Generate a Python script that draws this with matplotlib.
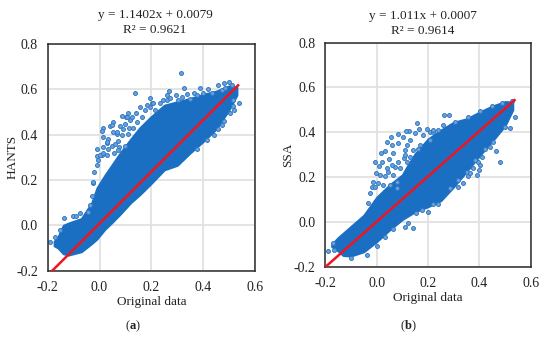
import matplotlib
matplotlib.use("Agg")
import matplotlib.pyplot as plt
import numpy as np

plt.rcParams['font.family'] = ['Liberation Serif', 'DejaVu Serif']
plt.rcParams['mathtext.fontset'] = 'custom'
plt.rcParams['mathtext.rm'] = 'Liberation Serif'
plt.rcParams['mathtext.bf'] = 'Liberation Serif:bold'

ticks = [-0.2, 0.0, 0.2, 0.4, 0.6]
yticks = [-0.2, 0.0, 0.2, 0.4, 0.6, 0.8]
xlabel = "Original data"

# panel a : dense part of the cloud, edges
a_core_x = [-0.175, -0.16, -0.14, -0.12, -0.07, -0.03, -0.01, 0.02, 0.05, 0.08, 0.12, 0.155, 0.195, 0.25, 0.30, 0.35, 0.40, 0.45, 0.50, 0.53]
a_core_up = [-0.07, -0.05, 0.0, 0.01, 0.03, 0.10, 0.165, 0.22, 0.27, 0.32, 0.38, 0.43, 0.475, 0.53, 0.545, 0.56, 0.578, 0.592, 0.615, 0.61]
a_core_lo = [-0.09, -0.10, -0.125, -0.131, -0.116, -0.08, -0.06, -0.018, 0.015, 0.05, 0.10, 0.135, 0.18, 0.245, 0.265, 0.32, 0.37, 0.425, 0.51, 0.575]
a_pts_x = [0.137, 0.195, 0.156, 0.111, 0.086, 0.102, 0.141, 0.053, 0.041, 0.015, 0.011, 0.015, 0.079, 0.098, 0.090, 0.115,
           -0.008, 0.034, 0.073, 0.053, 0.028, 0.047, -0.011, 0.008, 0.076, 0.066, 0.118, 0.176, 0.195,
           0.313, 0.327, 0.388, 0.420, 0.459, 0.481, 0.501, 0.267, 0.262, 0.295, 0.320, 0.339, 0.366, 0.537, 0.517, 0.519,
           0.481, 0.459, 0.246, 0.259, -0.19, -0.171, -0.154, -0.137, -0.102, -0.074, -0.09, -0.044, -0.038, -0.029, -0.025,
           0.028, 0.015, 0.002, 0.034, 0.060, 0.073, 0.099, 0.054, 0.086, 0.111, 0.131, 0.146, 0.163, 0.182, 0.202, 0.214,
           0.124, 0.105, 0.066, 0.047, 0.028, -0.011, -0.02, -0.024, -0.005, 0.015,
           0.272, 0.304, 0.349, 0.375, 0.401, 0.433, 0.472, 0.208, 0.234, 0.485, 0.510, 0.517, 0.504, 0.472, 0.440, 0.414, 0.375]
a_pts_y = [0.583, 0.563, 0.523, 0.497, 0.482, 0.477, 0.497, 0.457, 0.438, 0.431, 0.415, 0.388, 0.440, 0.446, 0.424, 0.428,
           0.337, 0.381, 0.372, 0.413, 0.362, 0.350, 0.306, 0.310, 0.344, 0.403, 0.465, 0.509, 0.523,
           0.671, 0.605, 0.607, 0.601, 0.619, 0.628, 0.631, 0.593, 0.574, 0.576, 0.568, 0.579, 0.583, 0.541, 0.528, 0.508,
           0.460, 0.425, 0.553, 0.553, -0.075, -0.05, -0.02, 0.031, 0.043, 0.053, 0.041, 0.06, 0.09, 0.131, 0.188,
           0.369, 0.344, 0.310, 0.339, 0.361, 0.332, 0.350, 0.317, 0.398, 0.403, 0.428, 0.457, 0.479, 0.530, 0.538, 0.508,
           0.479, 0.479, 0.413, 0.442, 0.310, 0.266, 0.237, 0.193, 0.288, 0.318,
           0.560, 0.553, 0.556, 0.575, 0.582, 0.586, 0.597, 0.538, 0.538, 0.604, 0.619, 0.553, 0.494, 0.442, 0.398, 0.376, 0.339]

# panel b
b_core_x = [-0.175, -0.15, -0.13, -0.10, -0.05, 0.0, 0.05, 0.10, 0.12, 0.15, 0.20, 0.25, 0.30, 0.35, 0.40, 0.45, 0.50, 0.53]
b_core_up = [-0.10, -0.07, -0.05, -0.02, 0.03, 0.11, 0.165, 0.21, 0.25, 0.305, 0.37, 0.41, 0.445, 0.46, 0.49, 0.517, 0.537, 0.535]
b_core_lo = [-0.11, -0.13, -0.15, -0.152, -0.133, -0.088, -0.036, 0.011, 0.025, 0.046, 0.068, 0.095, 0.157, 0.225, 0.295, 0.36, 0.43, 0.50]
b_pts_x = [0.158, 0.127, 0.114, 0.084, 0.101, 0.056, 0.041, 0.033, 0.016, 0.059, 0.084, -0.006, 0.020, 0.010, -0.004, -0.013,
           -0.019, 0.013, 0.049, 0.065, 0.117, 0.110, 0.041, 0.071, 0.106, 0.143, 0.166, 0.195, 0.208, 0.026,
           0.261, 0.281, 0.538, 0.482, 0.465, 0.519, 0.452, 0.409, 0.396, 0.400, 0.390, 0.357, 0.338, 0.318, 0.376,
           -0.191, -0.169, -0.165, -0.100, -0.039, -0.000, 0.033, 0.065, 0.110, 0.143, 0.123, 0.152, 0.201, 0.175, 0.238, 0.220, -0.033, -0.026,
           0.032, 0.045, 0.065, 0.078, 0.091, 0.058, 0.084, 0.117, 0.130, 0.110, 0.130, 0.149, 0.182, 0.221, 0.240, 0.208, 0.169, 0.162, 0.052, 0.006, -0.007, 0.078,
           0.422, 0.383, 0.351, 0.318, 0.286, 0.442, 0.500, 0.403, 0.364,
           0.221, 0.260, 0.305, 0.357, 0.403, 0.448, 0.487, 0.526]
b_pts_y = [0.440, 0.407, 0.406, 0.391, 0.380, 0.378, 0.358, 0.318, 0.309, 0.343, 0.351, 0.269, 0.269, 0.250, 0.217, 0.177,
           0.157, 0.209, 0.280, 0.306, 0.343, 0.321, 0.239, 0.246, 0.284, 0.321, 0.413, 0.413, 0.403, 0.165,
           0.479, 0.479, 0.470, 0.269, 0.318, 0.418, 0.358, 0.291, 0.269, 0.232, 0.209, 0.205, 0.175, 0.157, 0.239,
           -0.130, -0.095, -0.126, -0.163, -0.148, -0.106, -0.069, -0.032, -0.021, -0.026, -0.006, 0.038, 0.045, 0.053, 0.080, 0.080, 0.086, 0.130,
           0.205, 0.224, 0.210, 0.180, 0.239, 0.254, 0.269, 0.269, 0.291, 0.299, 0.366, 0.396, 0.388, 0.403, 0.410, 0.366, 0.343, 0.324, 0.165, 0.172, 0.157, 0.150,
           0.324, 0.276, 0.224, 0.187, 0.150, 0.336, 0.425, 0.254, 0.217,
           0.410, 0.433, 0.448, 0.467, 0.497, 0.518, 0.529, 0.541]

a_fit = (1.1402, 0.0079)
b_fit = (1.011, 0.0007)
a_end = 0.535
b_end = 0.537

W, H = 550, 337
BLUE = "#1b6fc2"


def panel(rect, core, pts, fit, end, ylabel, ypad):
    l, t, r, b = rect
    ax = fig.add_axes([l / W, 1 - b / H, (r - l) / W, (b - t) / H])
    ax.grid(True, color="#e2e2e2", lw=1.3)
    ax.set_axisbelow(True)
    ax.fill_between(core[0], core[2], core[1], color=BLUE, lw=1.5, zorder=2)
    ax.scatter(pts[0], pts[1], s=8, facecolor="#6ea3da", edgecolor="#2f78c4", linewidth=0.7, zorder=2)
    xs = np.array([-0.2, end])
    ax.plot(xs, fit[0] * xs + fit[1], color="#f0141e", lw=1.8, zorder=3)
    ax.set_xlim(-0.2, 0.6)
    ax.set_ylim(-0.2, 0.8)
    ax.set_xticks(ticks)
    ax.set_yticks(yticks)
    ax.set_xticklabels(["%.1f" % v for v in ticks])
    ax.set_yticklabels(["%.1f" % v for v in yticks])
    ax.tick_params(length=0, labelsize=10, colors="#222222")
    ax.tick_params(axis="x", pad=7.5)
    ax.tick_params(axis="y", pad=7)
    ax.set_xlabel(xlabel, fontsize=9.5, labelpad=1.5, color="#222222")
    ax.set_ylabel(ylabel, fontsize=9.5, labelpad=ypad, color="#222222")
    for s in ax.spines.values():
        s.set_color("#2a2a2a")
        s.set_linewidth(1.1)
    return ax


fig = plt.figure(figsize=(W / 100, H / 100), dpi=100)
panel((47.7, 44, 255, 270.7), (a_core_x, a_core_up, a_core_lo), (a_pts_x, a_pts_y), a_fit, a_end, "HANTS", -1.5)
panel((325.3, 42.7, 530.7, 266.7), (b_core_x, b_core_up, b_core_lo), (b_pts_x, b_pts_y), b_fit, b_end, "SSA", 0)

fig.text(155 / W, 1 - 15 / H, "y = 1.1402x + 0.0079", ha="center", va="center", fontsize=9.5, color="#222222")
fig.text(155 / W, 1 - 30 / H, "R² = 0.9621", ha="center", va="center", fontsize=9.5, color="#222222")
fig.text(423 / W, 1 - 15.5 / H, "y = 1.011x + 0.0007", ha="center", va="center", fontsize=9.5, color="#222222")
fig.text(423 / W, 1 - 30.5 / H, "R² = 0.9614", ha="center", va="center", fontsize=9.5, color="#222222")
fig.text(133 / W, 1 - 326 / H, r"($\mathbf{a}$)", ha="center", va="center", fontsize=9, color="#222222")
fig.text(408 / W, 1 - 326 / H, r"($\mathbf{b}$)", ha="center", va="center", fontsize=9, color="#222222")

fig.savefig("out.png", dpi=100)
